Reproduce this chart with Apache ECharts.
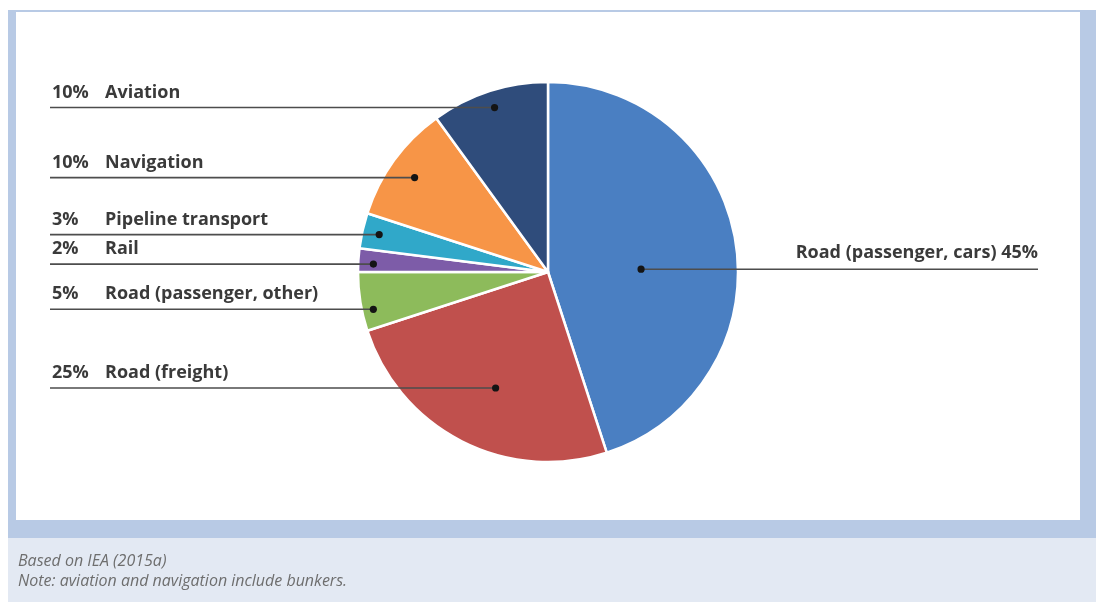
<!DOCTYPE html>
<html>
<head>
<meta charset="utf-8">
<title>Transport energy use by mode</title>
<script src="https://cdn.jsdelivr.net/npm/echarts@6/dist/echarts.min.js"></script>
<style>
  html, body { margin: 0; padding: 0; background: #ffffff; }
  #chart { width: 1096px; height: 602px; }
</style>
</head>
<body>
<div id="chart"></div>
<script>
// Shares of transport energy use by mode (%), drawn clockwise from 12 o'clock
const categories = ['Road (passenger, cars)', 'Road (freight)', 'Road (passenger, other)', 'Rail', 'Pipeline transport', 'Navigation', 'Aviation'];
const shares = [45, 25, 5, 2, 3, 10, 10];

const sliceColors = ['#4a7fc2', '#c0504d', '#8dbb5b', '#7d5ca8', '#30a8c9', '#f79547', '#2f4c7b'];

// Where each callout dot sits inside its slice:
// [fraction of the slice's sweep, fraction of the pie radius]
const calloutAnchors = [[0.545, 0.49], [0.47, 0.67], [0.33, 0.94], [0.36, 0.92], [0.49, 0.91], [0.48, 0.86], [0.5, 0.91]];

const footnotes = ['Based on IEA (2015a)', 'Note: aviation and navigation include bunkers.'];

const LABEL_FONT = 'bold 18px "Open Sans", "DejaVu Sans", sans-serif';
const LABEL_COLOR = '#3a3a3a';
const LEFT_LINE_X = 50;
const LEFT_PCT_X = 52;
const LEFT_NAME_X = 105;
const RIGHT_LINE_X = 1038;

const chart = echarts.init(document.getElementById('chart'), null, { renderer: 'canvas' });

// Page frame: blue border round the white panel, pale footer strip underneath
const frame = [
  { type: 'rect', z: 0, shape: { x: 8, y: 10, width: 1088, height: 528 }, style: { fill: '#b8cae5' } },
  { type: 'rect', z: 0, shape: { x: 16, y: 12, width: 1064, height: 508 }, style: { fill: '#ffffff' } },
  { type: 'rect', z: 0, shape: { x: 8, y: 538, width: 1088, height: 64 }, style: { fill: '#e3e9f3' } }
];
const notes = footnotes.map((t, i) => ({
  type: 'text', z: 1,
  x: 18, y: 561 + i * 20,
  style: {
    text: t, fill: '#6e6e6e', font: 'italic 16px "Open Sans", sans-serif',
    textVerticalAlign: 'middle'
  }
}));

chart.setOption({
  animation: false,
  graphic: { elements: frame.concat(notes) },
  series: [{
    type: 'pie',
    center: [548, 272],
    radius: 190,
    startAngle: 90,
    clockwise: true,
    silent: true,
    label: { show: false },
    labelLine: { show: false },
    itemStyle: { borderColor: '#ffffff', borderWidth: 2.5 },
    emphasis: { disabled: true },
    data: categories.map((name, i) => ({
      name: name,
      value: shares[i],
      itemStyle: { color: sliceColors[i] }
    }))
  }]
});

// Callouts: a dot inside each slice, a horizontal leader line and the label text,
// positioned from the slice geometry the pie layout produced.
const pieData = chart.getModel().getSeriesByIndex(0).getData();
const callouts = [];
categories.forEach((name, i) => {
  const lay = pieData.getItemLayout(i);
  const a = lay.startAngle + calloutAnchors[i][0] * (lay.endAngle - lay.startAngle);
  const rr = lay.r * calloutAnchors[i][1];
  const dx = lay.cx + Math.cos(a) * rr;
  const dy = lay.cy + Math.sin(a) * rr;
  const onLeft = dx < lay.cx;
  const lineEnd = onLeft ? LEFT_LINE_X : RIGHT_LINE_X;

  callouts.push({
    type: 'line', z: 20,
    shape: { x1: lineEnd, y1: dy, x2: dx, y2: dy },
    style: { stroke: '#4d4d4d', lineWidth: 1.6 }
  });
  callouts.push({
    type: 'circle', z: 21,
    shape: { cx: dx, cy: dy, r: 3.6 },
    style: { fill: '#141414' }
  });
  if (onLeft) {
    callouts.push({
      type: 'text', z: 22, x: LEFT_PCT_X, y: dy - 15,
      style: { text: shares[i] + '%', fill: LABEL_COLOR, font: LABEL_FONT, textVerticalAlign: 'middle' }
    });
    callouts.push({
      type: 'text', z: 22, x: LEFT_NAME_X, y: dy - 15,
      style: { text: name, fill: LABEL_COLOR, font: LABEL_FONT, textVerticalAlign: 'middle' }
    });
  } else {
    callouts.push({
      type: 'text', z: 22, x: RIGHT_LINE_X, y: dy - 16,
      style: { text: name + ' ' + shares[i] + '%', fill: LABEL_COLOR, font: LABEL_FONT, textAlign: 'right', textVerticalAlign: 'middle' }
    });
  }
});

chart.setOption({ graphic: { elements: frame.concat(notes, callouts) } }, { replaceMerge: ['graphic'] });
</script>
</body>
</html>
